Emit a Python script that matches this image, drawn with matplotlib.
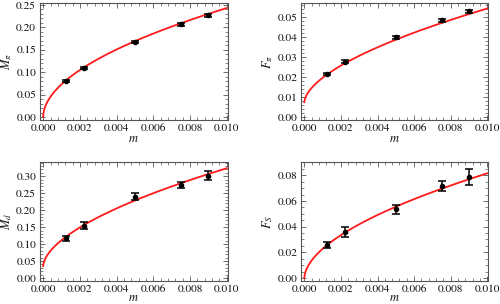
import numpy as np
import matplotlib
matplotlib.use("Agg")
import matplotlib.pyplot as plt
from matplotlib.ticker import MultipleLocator, FormatStrFormatter

plt.rcParams['font.family'] = ['STIXGeneral', 'DejaVu Serif']
plt.rcParams['mathtext.fontset'] = 'stix'

# data points (quark mass m)
m = [0.00125, 0.0022, 0.005, 0.0075, 0.009]

M_pi = [0.0808, 0.1084, 0.1663, 0.2064, 0.2264]
M_pi_err = [0.0025, 0.0025, 0.0025, 0.003, 0.003]

F_pi = [0.0215, 0.0277, 0.0398, 0.0483, 0.0528]
F_pi_err = [0.0007, 0.0007, 0.0007, 0.0008, 0.0008]

M_d = [0.117, 0.154, 0.240, 0.274, 0.301]
M_d_err = [0.007, 0.010, 0.010, 0.0085, 0.013]

F_S = [0.0257, 0.0361, 0.0537, 0.0716, 0.0789]
F_S_err = [0.002, 0.0039, 0.0035, 0.0039, 0.0062]

# fit curves: c + a * m**p
fit_M_pi = (0.0, 2.693, 0.5225)
fit_F_pi = (0.0074, 0.690, 0.584)
fit_M_d = (0.035, 4.103, 0.5764)
fit_F_S = (0.0, 1.0436, 0.5537)

panels = [
    dict(y=M_pi, e=M_pi_err, fit=fit_M_pi, label=r'$M_\pi$', ylim=(-0.0067, 0.254),
         major=0.05, minor=0.01, fmt='%.2f', xpad=0,
         pos=[39.5, 3, 188, 117]),
    dict(y=F_pi, e=F_pi_err, fit=fit_F_pi, label=r'$F_\pi$', ylim=(-0.0015, 0.057),
         major=0.01, minor=0.002, fmt='%.2f', xpad=0,
         pos=[300.7, 3, 187.3, 117]),
    dict(y=M_d, e=M_d_err, fit=fit_M_d, label=r'$M_d$', ylim=(-0.0089, 0.342),
         major=0.05, minor=0.01, fmt='%.2f', xpad=-1.5,
         pos=[39.5, 162, 188, 119]),
    dict(y=F_S, e=F_S_err, fit=fit_F_S, label=r'$F_S$', ylim=(-0.0023, 0.0903),
         major=0.02, minor=0.005, fmt='%.2f', xpad=-1.5,
         pos=[300.7, 162, 187.3, 119]),
]

W, H = 500, 304
fig = plt.figure(figsize=(W / 100, H / 100), dpi=100)
frame_col = '#555555'
mm = np.linspace(0, 0.01, 600)

for p in panels:
    x0, y0, w, h = p['pos']
    ax = fig.add_axes([x0 / W, 1 - (y0 + h) / H, w / W, h / H])
    c, a, pw = p['fit']
    ax.plot(mm, c + a * mm ** pw, color='#ff1a1a', lw=1.3, zorder=2)
    ax.errorbar(m, p['y'], yerr=p['e'], fmt='o', color='black', ms=3,
                elinewidth=1.1, capsize=2.8, capthick=1.1, zorder=3)
    ax.set_xlim(-0.0002, 0.01004)
    ax.set_ylim(*p['ylim'])
    ax.xaxis.set_major_locator(MultipleLocator(0.002))
    ax.xaxis.set_minor_locator(MultipleLocator(0.0004))
    ax.xaxis.set_major_formatter(FormatStrFormatter('%.3f'))
    ax.yaxis.set_major_locator(MultipleLocator(p['major']))
    ax.yaxis.set_minor_locator(MultipleLocator(p['minor']))
    ax.yaxis.set_major_formatter(FormatStrFormatter(p['fmt']))
    ax.tick_params(which='both', direction='in', top=True, right=True,
                   color=frame_col, labelsize=8.2, pad=2.5, labelcolor='#111111')
    ax.tick_params(which='major', length=3.5, width=0.6)
    ax.tick_params(which='minor', length=2, width=0.5)
    for s in ax.spines.values():
        s.set_color(frame_col)
        s.set_linewidth(0.8)
    ax.set_xlabel(r'$m$', fontsize=9, labelpad=p['xpad'], color='#111111')
    ax.set_ylabel(p['label'], fontsize=9, labelpad=1.5, color='#111111')

fig.savefig('out.png', dpi=100)
